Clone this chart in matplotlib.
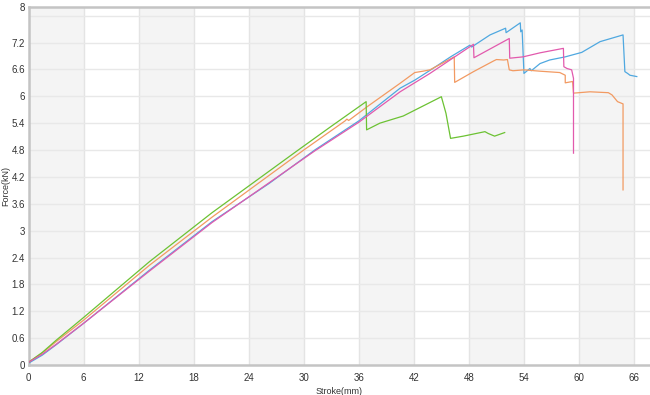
import matplotlib
matplotlib.use("Agg")
from matplotlib import pyplot as plt

plt.rcParams['font.family'] = ['Liberation Sans', 'DejaVu Sans']

# stroke (mm) / force (kN)
blue_x = [0, 1.5, 3, 6, 13.2, 20, 26.2, 31.2, 36, 40.5, 42.1, 44, 46, 48.1, 48.3, 50.3, 52.0, 52.05, 53.6, 53.65, 53.8, 54.0,
          54.65, 54.8, 55.75, 56.8, 58.5, 60.3, 62.3, 64.8, 65.0, 65.3, 65.55, 66.3]
blue_y = [0.04, 0.22, 0.45, 0.93, 2.12, 3.20, 4.05, 4.80, 5.45, 6.18, 6.36, 6.61, 6.88, 7.14, 7.10, 7.37, 7.52, 7.42, 7.64, 7.44, 7.48, 6.51,
          6.62, 6.57, 6.73, 6.81, 6.88, 6.98, 7.22, 7.37, 6.55, 6.51, 6.47, 6.44]

orange_x = [0, 1.5, 3, 6, 13.2, 20, 30, 34.5, 34.7, 34.9, 37, 40.5, 42.1, 43.0, 43.75, 46.4, 46.45, 48.5, 50.7, 51.0, 51.8, 52.2,
            52.4, 52.8, 54.0, 55.75, 57.9, 58.5, 58.5, 59.3, 59.4, 61.2, 63.2, 63.6, 64.2, 64.8, 64.8]
orange_y = [0.06, 0.27, 0.52, 1.00, 2.23, 3.30, 4.80, 5.45, 5.49, 5.46, 5.78, 6.29, 6.53, 6.56, 6.59, 6.88, 6.31, 6.55, 6.79, 6.82, 6.81, 6.82,
            6.59, 6.57, 6.59, 6.56, 6.53, 6.47, 6.30, 6.33, 6.07, 6.10, 6.08, 6.03, 5.88, 5.83, 3.91]

pink_x = [0, 1.5, 3, 6, 13.2, 20, 31.2, 36, 40.5, 43.75, 48.5, 48.55, 52.4, 52.45, 53.9, 55.75, 58.3, 58.35, 58.7, 59.2, 59.4, 59.4]
pink_y = [0.06, 0.24, 0.46, 0.93, 2.10, 3.18, 4.78, 5.42, 6.10, 6.51, 7.16, 6.86, 7.29, 6.85, 6.88, 6.97, 7.07, 6.66, 6.62, 6.59, 6.40, 4.73]

green_x = [0, 1.5, 3, 6, 13.2, 20, 29.4, 33, 36.8, 36.85, 38.3, 40.85, 45.0, 45.5, 46.0, 47.4, 49.75, 50.1, 50.8, 51.9]
green_y = [0.06, 0.28, 0.55, 1.06, 2.31, 3.40, 4.80, 5.33, 5.88, 5.25, 5.40, 5.56, 5.99, 5.62, 5.06, 5.11, 5.21, 5.17, 5.11, 5.19]

x_ticks = [0, 6, 12, 18, 24, 30, 36, 42, 48, 54, 60, 66]
y_ticks = [0, 0.6, 1.2, 1.8, 2.4, 3, 3.6, 4.2, 4.8, 5.4, 6, 6.6, 7.2, 8]
y_tick_labels = ['0', '0.6', '1.2', '1.8', '2.4', '3', '3.6', '4.2', '4.8', '5.4', '6', '6.6', '7.2', '8']

fig = plt.figure(figsize=(6.5, 3.95), dpi=100)
ax = fig.add_axes([28.5 / 650, 30 / 395, 1 - 28.5 / 650, (365 - 6.7) / 395])

# alternating grey bands
for i in range(0, len(x_ticks) - 1, 2):
    ax.axvspan(x_ticks[i], x_ticks[i + 1], color='#f4f4f4', zorder=0, lw=0)

for xv in x_ticks[1:]:
    ax.axvline(xv, color='#e4e4e4', lw=1, zorder=1)
for yv in [0.6, 1.2, 1.8, 2.4, 3, 3.6, 4.2, 4.8, 5.4, 6, 6.6, 7.2, 7.8]:
    ax.axhline(yv, color='#e8e8e8', lw=1, zorder=1)

lw = 0.9
ax.plot(blue_x, blue_y, color='#4fa8e0', lw=lw, zorder=3)
ax.plot(orange_x, orange_y, color='#f29a62', lw=lw, zorder=3)
ax.plot(pink_x, pink_y, color='#e25aad', lw=lw, zorder=4)
ax.plot(green_x, green_y, color='#6cc233', lw=lw, zorder=3)

ax.set_xlim(0, (650 - 28.5) / 55.05 * 6)
ax.set_ylim(0, 8)
ax.set_xticks(x_ticks)
ax.set_yticks(y_ticks)
ax.set_yticklabels(y_tick_labels)
ax.tick_params(length=0, labelsize=7, colors='#333333')
ax.tick_params(axis='y', pad=2.5)
ax.tick_params(axis='x', pad=6)

for s in ['left', 'bottom', 'top']:
    ax.spines[s].set_color('#c4c4c4')
    ax.spines[s].set_linewidth(1.8)
ax.spines['right'].set_visible(False)

ax.set_xlabel('Stroke(mm)', fontsize=6.5, color='#333333', labelpad=3)
ax.set_ylabel('Force(kN)', fontsize=6.5, color='#333333')
ax.yaxis.set_label_coords(-0.029, 0.5)

plt.savefig('out.png', dpi=100)
